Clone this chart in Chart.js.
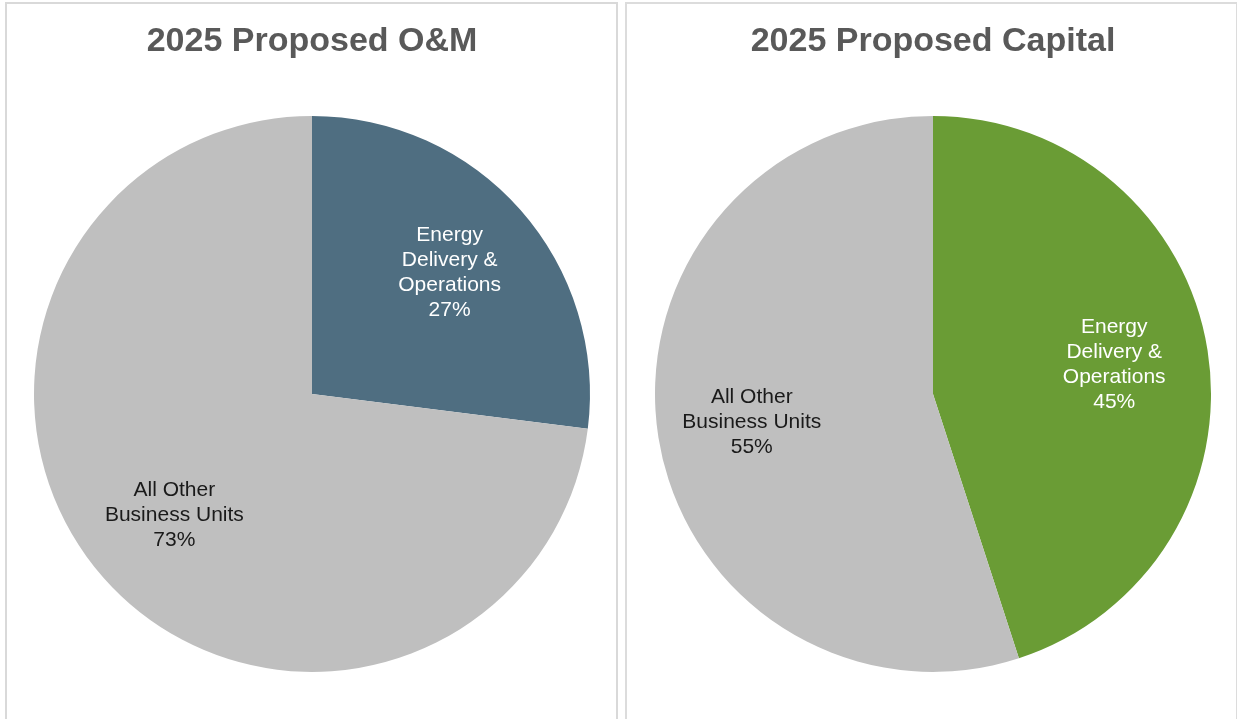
<!DOCTYPE html>
<html lang="en">
<head>
    <meta charset="UTF-8">
    <title>2025 Proposed O&amp;M and Capital</title>
    <script src="https://cdn.jsdelivr.net/npm/chart.js"></script>
    <style>
        body {
            margin: 0;
            background: #fff;
            font-family: "Liberation Sans", Arial, sans-serif;
            overflow: hidden;
        }
        .wrap {
            position: absolute;
            top: 0;
            height: 719px;
        }
        .panel {
            position: absolute;
            top: 2px;
            height: 760px;
            box-sizing: border-box;
            border: 2px solid #d9d9d9;
            pointer-events: none;
        }
    </style>
</head>
<body>

    <div class="wrap" style="left:0;width:618px"><canvas id="omChart" width="618" height="719"></canvas></div>
    <div class="wrap" style="left:618px;width:619px"><canvas id="capitalChart" width="619" height="719"></canvas></div>
    <div class="panel" style="left:5px;width:613px"></div>
    <div class="panel" style="left:625px;width:613px;border-color:#dcdcdc"></div>

    <script>
        // slice names, split into lines the way they sit on the slices
        const categories = [
            ['Energy', 'Delivery &', 'Operations'],
            ['All Other', 'Business Units']
        ];
        const omValues = [27, 73];
        const capitalValues = [45, 55];

        const omColors = ['#4f6e81', '#bfbfbf'];
        const capitalColors = ['#6a9c35', '#bfbfbf'];
        const labelColors = ['#ffffff', '#1a1a1a'];

        // draws the name + percent inside each slice
        const sliceLabels = {
            id: 'sliceLabels',
            afterDatasetsDraw(chart) {
                const ctx = chart.ctx;
                const meta = chart.getDatasetMeta(0);
                const values = chart.data.datasets[0].data;
                const total = values.reduce((a, b) => a + b, 0);
                ctx.save();
                ctx.font = '21px "Liberation Sans", Arial, sans-serif';
                ctx.textAlign = 'center';
                ctx.textBaseline = 'middle';
                meta.data.forEach((arc, i) => {
                    const p = arc.getProps(['x', 'y', 'startAngle', 'endAngle', 'outerRadius'], true);
                    const mid = (p.startAngle + p.endAngle) / 2;
                    const cx = p.x + Math.cos(mid) * p.outerRadius * 0.66;
                    const cy = p.y + Math.sin(mid) * p.outerRadius * 0.66;
                    const lines = categories[i].concat([Math.round(values[i] / total * 100) + '%']);
                    const lh = 25;
                    const top = cy - (lines.length - 1) * lh / 2;
                    ctx.fillStyle = labelColors[i];
                    lines.forEach((t, k) => ctx.fillText(t, cx, top + k * lh));
                });
                ctx.restore();
            }
        };

        function makePie(id, title, values, colors, pad) {
            return new Chart(document.getElementById(id), {
                type: 'pie',
                data: {
                    labels: categories.map(c => c.join(' ')),
                    datasets: [{
                        data: values,
                        backgroundColor: colors,
                        borderWidth: 0
                    }]
                },
                options: {
                    responsive: false,
                    animation: false,
                    layout: { padding: pad },
                    plugins: {
                        legend: { display: false },
                        tooltip: { enabled: false },
                        title: {
                            display: true,
                            text: title,
                            color: '#595959',
                            font: { family: '"Liberation Sans", Arial, sans-serif', size: 34, weight: 'bold', lineHeight: 1.2 },
                            padding: { top: 21, bottom: 54 }
                        }
                    }
                },
                plugins: [sliceLabels]
            });
        }

        makePie('omChart', '2025 Proposed O&M', omValues, omColors,
            { left: 34, right: 28, top: 0, bottom: 47 });
        makePie('capitalChart', '2025 Proposed Capital', capitalValues, capitalColors,
            { left: 37, right: 26, top: 0, bottom: 47 });
    </script>

</body>
</html>
